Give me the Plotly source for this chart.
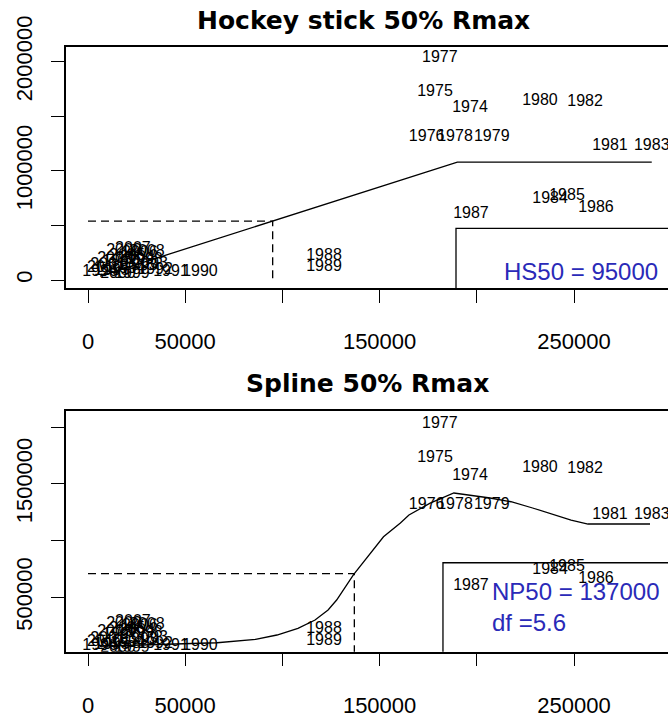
import plotly.graph_objects as go

# Stock-recruitment data: spawning stock biomass (SSB) and recruitment (R) by year
years = [1974, 1975, 1976, 1977, 1978, 1979, 1980, 1981, 1982, 1983,
         1984, 1985, 1986, 1987, 1988, 1989, 1990, 1991, 1992, 1993,
         1994, 1995, 1996, 1997, 1998, 1999, 2000, 2001, 2002, 2003,
         2004, 2005, 2006, 2007, 2008, 2009, 2010]
ssb = [196500, 178500, 174200, 181000, 188800, 207700, 232500, 268500, 255700, 290000,
       237700, 246400, 261300, 197000, 121400, 121400, 57600, 42700, 34500, 26700,
       20600, 12300, 6200, 16500, 29300, 22600, 15400, 10300, 18500, 31900,
       25200, 20100, 26700, 23100, 30300, 13900, 8700]
recruits = [1572000, 1724000, 1312000, 2030000, 1312000, 1312000, 1642000, 1227000, 1633000, 1227000,
            742000, 769000, 659000, 604000, 220000, 119000, 73000, 73000, 91600, 128200,
            100700, 82400, 73300, 164800, 183200, 54900, 54900, 137400, 265600, 146500,
            201500, 219800, 247300, 283900, 256400, 192300, 109900]

# Hockey-stick fit: R = min(a * SSB, Rmax), 50% Rmax reached at HS50
hs_rmax = 1080000
hs50 = 95000
hs_ssb = [6200, 2 * hs50, 290000]

# Non-parametric (spline) fit evaluated along SSB
spl_ssb = [6000, 30000, 50000, 66400, 86200, 97200, 108000, 116800, 123500, 127900,
           136600, 145400, 152000, 160700, 165100, 176000, 188200, 206800, 217600,
           228700, 239700, 248500, 257200, 289100]
spl_r = [70000, 80000, 90000, 101000, 131000, 169000, 228000, 301000, 389000, 477000,
         700000, 891000, 1034000, 1155000, 1225000, 1330000, 1419000, 1375000, 1342000,
         1287000, 1225000, 1181000, 1146000, 1146000]
np50 = 137000
spl_df = 5.6

x_ticks = [0, 50000, 100000, 150000, 200000, 250000, 300000]
x_ticktext = ["0", "50000", "", "150000", "", "250000", ""]
y1_ticks = [0, 500000, 1000000, 1500000, 2000000]
y1_ticktext = ["0", "", "1000000", "", "2000000"]
y2_ticks = [500000, 1000000, 1500000, 2000000]
y2_ticktext = ["500000", "", "1500000", ""]

SANS = "Liberation Sans, Arial, sans-serif"
BOLD = "DejaVu Sans, Liberation Sans, Arial, sans-serif"
BLUE = "#2a2ab8"
W, H = 668, 719

hs_r = [min(s * hs_rmax / (2 * hs50), hs_rmax) for s in hs_ssb]
hs_half = hs_rmax / 2
spl_half = max(spl_r) / 2

fig = go.Figure()

for xa, ya in (("x", "y"), ("x2", "y2")):
    fig.add_trace(go.Scatter(
        x=ssb, y=recruits, mode="text", text=[str(v) for v in years],
        textposition="middle center",
        textfont=dict(family=SANS, size=16, color="black"),
        xaxis=xa, yaxis=ya, hoverinfo="skip", showlegend=False))

# hockey stick
fig.add_trace(go.Scatter(x=hs_ssb, y=hs_r, mode="lines",
                         line=dict(color="black", width=1.3),
                         xaxis="x", yaxis="y", showlegend=False))
fig.add_trace(go.Scatter(x=[0, hs50, hs50], y=[hs_half, hs_half, 0], mode="lines",
                         line=dict(color="black", width=1.3, dash="8px,5px"),
                         xaxis="x", yaxis="y", showlegend=False))

# spline
fig.add_trace(go.Scatter(x=spl_ssb, y=spl_r, mode="lines",
                         line=dict(color="black", width=1.3),
                         xaxis="x2", yaxis="y2", showlegend=False))
fig.add_trace(go.Scatter(x=[0, np50, np50], y=[spl_half, spl_half, 0], mode="lines",
                         line=dict(color="black", width=1.3, dash="8px,5px"),
                         xaxis="x2", yaxis="y2", showlegend=False))


def px_to_x(px):
    return (px - 88) * 50000 / 97.2


x_range = [px_to_x(66), px_to_x(668)]
xdom = [66 / W, 1]

common_x = dict(range=x_range, domain=xdom, tickvals=x_ticks, ticktext=x_ticktext,
                ticks="outside", ticklen=13, tickwidth=1.3, tickcolor="black",
                showline=True, linecolor="black", linewidth=1.5, mirror=True,
                showgrid=False, zeroline=False, ticklabelstandoff=20, automargin=False,
                tickfont=dict(family=SANS, size=22, color="black"))
common_y = dict(ticks="outside", ticklen=13, tickwidth=1.3, tickcolor="black",
                showline=True, linecolor="black", linewidth=1.5, mirror=False,
                showgrid=False, zeroline=False, tickangle=-90, ticklabelstandoff=10,
                automargin=False,
                tickfont=dict(family=SANS, size=22, color="black"))

fig.update_layout(
    width=W, height=H, margin=dict(l=0, r=0, t=0, b=0, autoexpand=False),
    paper_bgcolor="white", plot_bgcolor="white", showlegend=False,
    xaxis=dict(anchor="y", **common_x),
    xaxis2=dict(anchor="y2", **common_x),
    yaxis=dict(anchor="x", domain=[1 - 288.3 / H, 1 - 47.3 / H],
               range=[(280 - 288.3) * 9158, (280 - 47.3) * 9158],
               tickvals=y1_ticks, ticktext=y1_ticktext, **common_y),
    yaxis2=dict(anchor="x2", domain=[1 - 651.7 / H, 1 - 410.7 / H],
                range=[(654.2 - 651.7) * 8803, (654.2 - 410.7) * 8803],
                tickvals=y2_ticks, ticktext=y2_ticktext, **common_y),
)

# legend boxes
fig.add_shape(type="rect", xref="x", yref="y", x0=189300, x1=400000,
              y0=-300000, y1=473000, line=dict(color="black", width=1.3))
fig.add_shape(type="rect", xref="x2", yref="y2", x0=182600, x1=400000,
              y0=-300000, y1=805000, line=dict(color="black", width=1.3))

fig.add_annotation(x=213000, y=82400, xref="x", yref="y", xanchor="left", yanchor="middle",
                   text=f"HS50 = {hs50}", showarrow=False,
                   font=dict(family=SANS, size=24, color=BLUE))
fig.add_annotation(x=206800, y=556000, xref="x2", yref="y2", xanchor="left", yanchor="middle",
                   text=f"NP50 = {np50}", showarrow=False,
                   font=dict(family=SANS, size=24, color=BLUE))
fig.add_annotation(x=206800, y=275000, xref="x2", yref="y2", xanchor="left", yanchor="middle",
                   text=f"df ={spl_df}", showarrow=False,
                   font=dict(family=SANS, size=24, color=BLUE))

# panel titles
fig.add_annotation(x=363 / W, y=1 - 4 / H, xref="paper", yref="paper",
                   xanchor="center", yanchor="top",
                   text="<b>Hockey stick 50% Rmax</b>", showarrow=False,
                   font=dict(family=BOLD, size=25, color="black"))
fig.add_annotation(x=367 / W, y=1 - 383 / H, xref="paper", yref="paper",
                   text="<b>Spline 50% Rmax</b>", showarrow=False,
                   font=dict(family=BOLD, size=25, color="black"))

fig.write_html("out.html")
